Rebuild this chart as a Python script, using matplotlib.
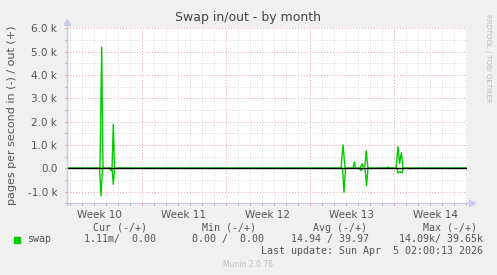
import matplotlib
matplotlib.use("Agg")
import matplotlib.pyplot as plt
import numpy as np

# ---- data (time in days from left edge of plot, values in pages/s) ----
out_days = [0.0, 2.75, 2.89, 3.00, 3.75, 3.86, 3.96, 22.83, 23.00, 23.17,
            23.83, 23.94, 24.04, 24.42, 24.58, 24.67, 24.83, 24.92, 25.08, 25.21,
            26.67, 26.75, 26.83, 27.42, 27.58, 27.71, 27.86, 28.00, 33.33]
out_vals = [0, 0, 5190, 0, 0, 1890, 0, 0, 1000, 0,
            0, 270, 0, 0, 200, 60, 100, 750, 0, 0,
            0, 60, 0, 0, 930, 200, 670, 0, 0]
in_days = [0.0, 2.71, 2.83, 2.96, 3.58, 3.67, 3.75, 3.86, 3.96, 22.96, 23.08, 23.21,
           24.33, 24.50, 24.67, 24.83, 24.96, 25.08, 27.50, 27.58, 27.75, 27.92, 28.00,
           28.50, 28.58, 28.67, 33.33]
in_vals = [0, 0, -1190, 0, 0, -100, -50, -690, 0, 0, -1030, 0,
           0, -100, 0, 0, -750, 0, 0, -200, -150, -200, 0,
           0, -30, 0, 0]

# ---- axis definitions ----
week_bounds = [6.22, 13.22, 20.22, 27.22]
week_label_pos = [2.72, 9.72, 16.72, 23.72, 30.72]
week_labels = ["Week 10", "Week 11", "Week 12", "Week 13", "Week 14"]
ytick_vals = [-1000, 0, 1000, 2000, 3000, 4000, 5000, 6000]
ytick_labels = ["-1.0 k", "0.0", "1.0 k", "2.0 k", "3.0 k", "4.0 k", "5.0 k", "6.0 k"]

W, H = 497, 275
fig = plt.figure(figsize=(W / 100, H / 100), dpi=100, facecolor="#f0f0f0")
x0, x1, ytop, ybot = 67, 467, 28, 203
ax = fig.add_axes([x0 / W, 1 - ybot / H, (x1 - x0) / W, (ybot - ytop) / H])
ax.set_facecolor("white")
XMAX = 33.33
ax.set_xlim(0, XMAX)
ax.set_ylim(-1490, 6010)

for s in ax.spines.values():
    s.set_visible(False)

# grids
minor_x = [d for d in np.arange(0.22, XMAX, 1.0)]
for d in minor_x:
    if all(abs(d - b) > 0.01 for b in week_bounds):
        ax.axvline(d, color="#cfcfcf", lw=0.6, ls=(0, (1, 2)), zorder=1)
for b in week_bounds:
    ax.axvline(b, color="#e3a5a5", lw=0.7, ls=(0, (1, 2)), zorder=1)
for v in np.arange(-1500, 6001, 500):
    if v % 1000 != 0:
        ax.axhline(v, color="#cfcfcf", lw=0.6, ls=(0, (1, 2)), zorder=1)
for v in ytick_vals:
    ax.axhline(v, color="#e3a5a5", lw=0.7, ls=(0, (1, 2)), zorder=1)

# data
ax.plot(out_days, out_vals, color="#00cc00", lw=1.0, zorder=3)
ax.plot(in_days, in_vals, color="#00cc00", lw=1.0, zorder=3)
ax.axhline(0, color="black", lw=1.0, zorder=4)

# ticks
ax.set_yticks(ytick_vals)
ax.set_yticklabels(ytick_labels)
ax.set_xticks(week_label_pos)
ax.set_xticklabels(week_labels)
ax.tick_params(axis="both", length=0, labelsize=7.5, labelcolor="#555555")
ax.tick_params(axis="y", pad=7)
ax.tick_params(axis="x", pad=5)

# axis lines + arrows + small tick marks
axc = "#c8c8f0"
ax.plot([0, 0], [-1560, 6150], color=axc, lw=1, clip_on=False, zorder=5)
ax.plot([0, XMAX * 1.008], [-1490, -1490], color=axc, lw=1, clip_on=False, zorder=5)
ax.plot([0], [6250], marker="^", color=axc, ms=4, clip_on=False, zorder=5)
ax.plot([XMAX * 1.012], [-1490], marker=">", color=axc, ms=4, clip_on=False, zorder=5)
for v in np.arange(-1500, 6001, 500):
    col = "#e3a5a5" if v % 1000 == 0 else "#bbbbbb"
    ax.plot([-0.15, 0], [v, v], color=col, lw=0.7, clip_on=False, zorder=5)
for d in minor_x:
    col = "#e3a5a5" if any(abs(d - b) < 0.01 for b in week_bounds) else "#bbbbbb"
    ax.plot([d, d], [-1490, -1570], color=col, lw=0.7, clip_on=False, zorder=5)

# texts
fig.text(248 / W, 1 - 18 / H, "Swap in/out - by month", ha="center", va="center",
         fontsize=9, color="#444444")
fig.text(12 / W, 1 - 115 / H, "pages per second in (-) / out (+)", rotation=90,
         ha="center", va="center", fontsize=8, color="#555555")
fig.text(488 / W, 1 - 58 / H, "RRDTOOL / TOBI OETIKER", rotation=270,
         ha="center", va="center", fontsize=5, color="#bbbbbb")

mono = dict(family="DejaVu Sans Mono", fontsize=7.2, color="#555555", va="center")
fig.text(146.7 / W, 1 - 227.7 / H, "Cur (-/+)", ha="right", **mono)
fig.text(255.5 / W, 1 - 227.7 / H, "Min (-/+)", ha="right", **mono)
fig.text(366.7 / W, 1 - 227.7 / H, "Avg (-/+)", ha="right", **mono)
fig.text(476.7 / W, 1 - 227.7 / H, "Max (-/+)", ha="right", **mono)
fig.patches.append(plt.Rectangle((14 / W, 1 - 243 / H), 6 / W, 6 / H,
                                 transform=fig.transFigure, color="#00cc00"))
fig.text(27 / W, 1 - 239.3 / H, "swap", ha="left", **mono)
fig.text(156 / W, 1 - 239.3 / H, "1.11m/  0.00", ha="right", **mono)
fig.text(263.5 / W, 1 - 239.3 / H, "0.00 /  0.00", ha="right", **mono)
fig.text(369.3 / W, 1 - 239.3 / H, "14.94 / 39.97", ha="right", **mono)
fig.text(482.7 / W, 1 - 239.3 / H, "14.09k/ 39.65k", ha="right", **mono)
fig.text(482.7 / W, 1 - 251 / H, "Last update: Sun Apr  5 02:00:13 2026", ha="right", **mono)
fig.text(248 / W, 1 - 264.5 / H, "Munin 2.0.76", ha="center", va="center",
         fontsize=5.5, color="#c0c0c0")

fig.savefig("out.png", dpi=100, facecolor=fig.get_facecolor())
